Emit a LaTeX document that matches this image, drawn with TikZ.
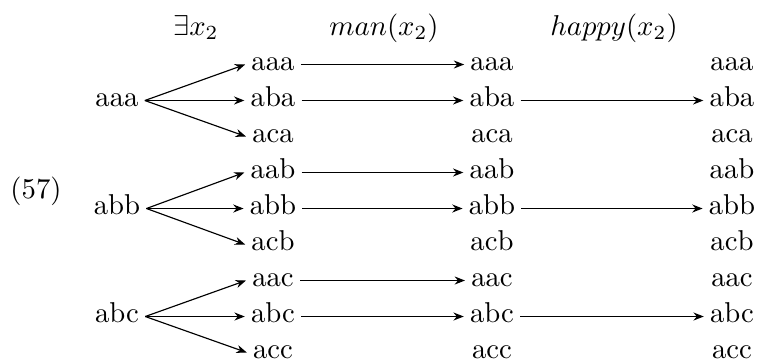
\documentclass[tikz,border=0pt]{standalone}
\usetikzlibrary{arrows.meta}
\begin{document}
\begin{tikzpicture}[x=0.3484pt,y=-0.3484pt,
  lbl/.style={inner sep=2pt,text height=1ex,text depth=0pt,anchor=center},
  hdr/.style={inner sep=0pt,anchor=base},
  arr/.style={-{Stealth[length=3.6pt,width=2.8pt]},line width=0.4pt}]
\useasboundingbox (0,0) rectangle (758,363);
% headers
\node[hdr] (h1) at (196,35) {$\exists x_2$};
\node[hdr] (h2) at (384,35) {$man(x_2)$};
\node[hdr] (h3) at (614,35) {$happy(x_2)$};
\node[hdr] (num) at (36,198) {(57)};
% sources
\node[lbl] (s1) at (117,100.5) {aaa};
\node[lbl] (s2) at (117,208.5) {abb};
\node[lbl] (s3) at (117,316.5) {abc};
% columns
\foreach \t [count=\i] in {aaa,aba,aca,aab,abb,acb,aac,abc,acc}{
  \pgfmathsetmacro{\yy}{64.5+36*(\i-1)}
  \node[lbl] (b\i) at (273,\yy) {\t};
  \node[lbl] (c\i) at (492,\yy) {\t};
  \node[lbl] (d\i) at (732,\yy) {\t};
}
% fans
\foreach \s/\a in {1/1,2/4,3/7}{
  \foreach \k in {0,1,2}{
    \pgfmathtruncatemacro{\tt}{\a+\k}
    \draw[arr] (s\s.east) -- (b\tt.west);
  }
}
\foreach \i in {1,2,4,5,7,8}{\draw[arr] (b\i) -- (c\i);}
\foreach \i in {2,5,8}{\draw[arr] (c\i) -- (d\i);}
\end{tikzpicture}
\end{document}
